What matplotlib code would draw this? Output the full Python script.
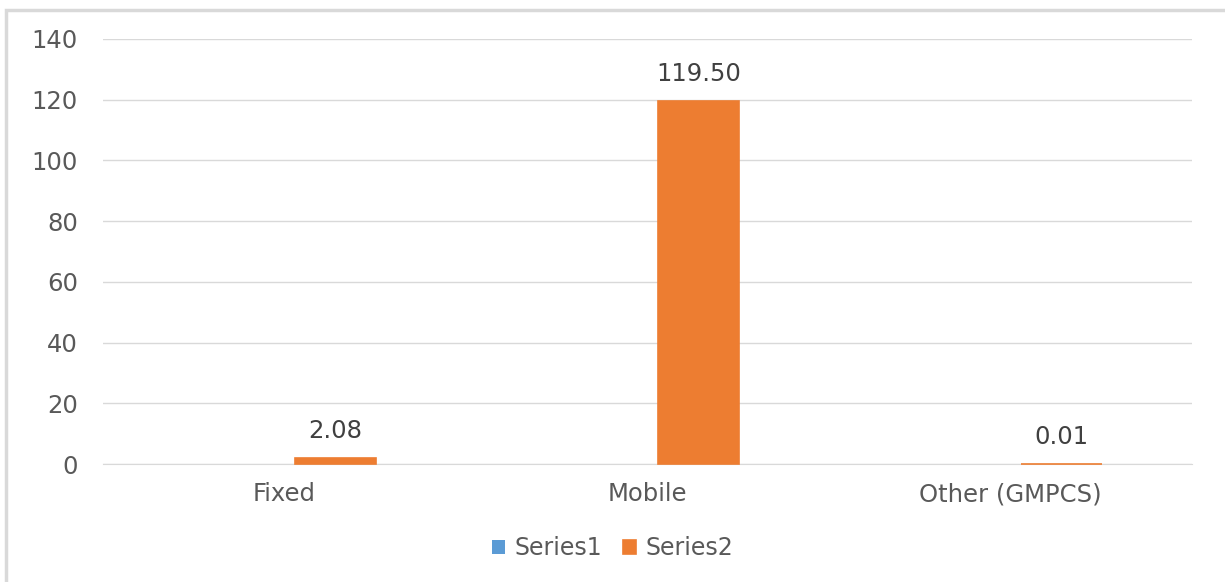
import matplotlib.pyplot as plt
import numpy as np
from matplotlib.patches import Rectangle

categories = ['Fixed', 'Mobile', 'Other (GMPCS)']
series1 = [0, 0, 0]
series2 = [2.08, 119.50, 0.01]
series2_labels = ['2.08', '119.50', '0.01']
yticks = [0, 20, 40, 60, 80, 100, 120, 140]

plt.rcParams['font.family'] = ['DejaVu Sans']

fig = plt.figure(figsize=(12.25, 5.82), dpi=100)
ax = fig.add_axes([0.0841, 0.2027, 0.8889, 0.7303])

# chart border (clipped on right/bottom like the reference)
fig.patches.append(Rectangle((6 / 1225, -0.1), 1.2, 1 - 10 / 582 + 0.1,
                             transform=fig.transFigure, fill=False,
                             edgecolor='#d9d9d9', linewidth=2.5))

x = np.arange(len(categories))
w = 0.223
off = 0.14
ax.bar(x - off, series1, w, color='#5b9bd5', label='Series1')
bars = ax.bar(x + off, series2, w, color='#ed7d31', label='Series2',
              edgecolor='#ed7d31', linewidth=1.2, zorder=3, clip_on=False)

for b, lab in zip(bars, series2_labels):
    ax.text(b.get_x() + b.get_width() / 2, b.get_height() + 5, lab,
            ha='center', va='bottom', fontsize=17.5, color='#404040')

ax.set_xlim(-0.5, 2.5)
ax.set_ylim(0, 140)
ax.set_yticks(yticks)
ax.set_xticks(x)
ax.set_xticklabels(categories)
ax.tick_params(axis='both', length=0, labelsize=17.5, colors='#595959')
ax.tick_params(axis='y', pad=18)
ax.tick_params(axis='x', pad=13)
ax.grid(axis='y', color='#d9d9d9', linewidth=1)
ax.set_axisbelow(True)
for s in ['top', 'right', 'left']:
    ax.spines[s].set_visible(False)
ax.spines['bottom'].set_color('#d9d9d9')

leg = fig.legend(loc='center', bbox_to_anchor=(0.5, 1 - 548 / 582), ncol=2,
                 frameon=False, fontsize=17, handlelength=0.55, handleheight=0.55,
                 columnspacing=0.9, handletextpad=0.4)
for t in leg.get_texts():
    t.set_color('#595959')

fig.savefig('out.png', dpi=100)
